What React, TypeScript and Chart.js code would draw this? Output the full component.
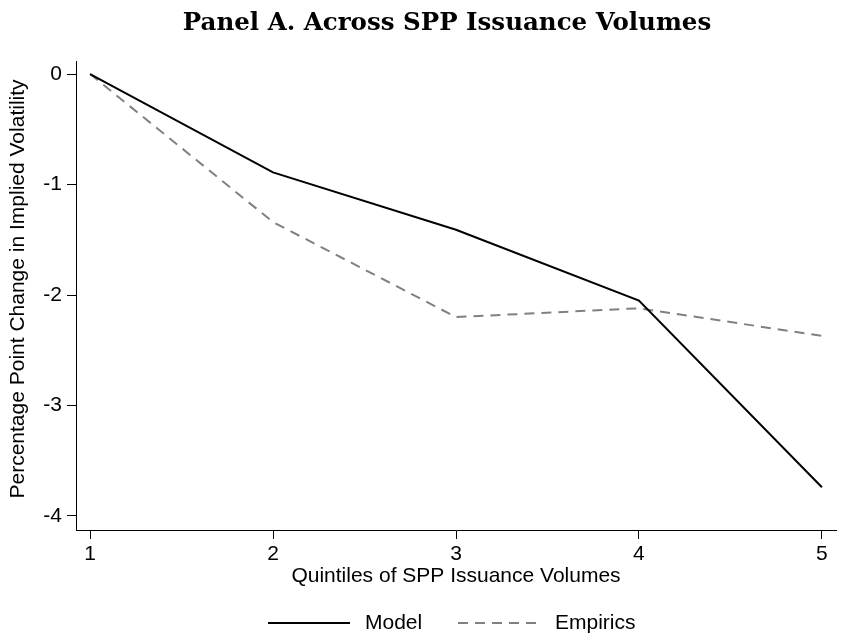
import React, { useEffect, useRef } from "react";
import { Chart, registerables } from "chart.js";

Chart.register(...registerables);

// Quintile buckets and the two response series (percentage points)
const quintiles = [1, 2, 3, 4, 5];
const modelValues = [0, -0.89, -1.41, -2.05, -3.74];
const empiricsValues = [0, -1.34, -2.2, -2.12, -2.37];

const xTickValues = [1, 2, 3, 4, 5];
const yTickValues = [0, -1, -2, -3, -4];

const titleText = "Panel A. Across SPP Issuance Volumes";
const xAxisLabel = "Quintiles of SPP Issuance Volumes";
const yAxisLabel = "Percentage Point Change in Implied Volatility";

const SANS = "'Liberation Sans', Arial, Helvetica, sans-serif";
const SERIF = "'DejaVu Serif', 'Liberation Serif', serif";
const TEXT_SIZE = 21;

// Draws the panel heading, the vertical axis caption and the legend strip
const decorPlugin = {
  id: "panelDecor",
  afterDraw(chart: any) {
    const ctx = chart.ctx as CanvasRenderingContext2D;
    ctx.save();
    ctx.fillStyle = "#000";
    ctx.font = `bold 24.5px ${SERIF}`;
    ctx.textAlign = "center";
    ctx.textBaseline = "alphabetic";
    ctx.fillText(titleText, 447, 30);

    // rotated caption for the value axis
    ctx.save();
    ctx.translate(18, 289);
    ctx.rotate(-Math.PI / 2);
    ctx.font = `${TEXT_SIZE}px ${SANS}`;
    ctx.textAlign = "center";
    ctx.textBaseline = "middle";
    ctx.fillText(yAxisLabel, 0, 0);
    ctx.restore();

    const legendY = 623;
    const entries = [
      { x0: 268, x1: 350, tx: 365 },
      { x0: 458, x1: 540, tx: 555 },
    ];
    chart.data.datasets.forEach((ds: any, i: number) => {
      const e = entries[i];
      ctx.beginPath();
      ctx.strokeStyle = ds.borderColor;
      ctx.lineWidth = ds.borderWidth;
      ctx.setLineDash(ds.borderDash || []);
      ctx.moveTo(e.x0, legendY);
      ctx.lineTo(e.x1, legendY);
      ctx.stroke();
      ctx.setLineDash([]);
      ctx.fillStyle = "#000";
      ctx.font = `${TEXT_SIZE}px ${SANS}`;
      ctx.textAlign = "left";
      ctx.textBaseline = "middle";
      ctx.fillText(ds.label, e.tx, legendY);
    });
    ctx.restore();
  },
};

export default function App() {
  const canvasRef = useRef<HTMLCanvasElement | null>(null);

  useEffect(() => {
    const canvas = canvasRef.current;
    if (!canvas) return;
    const chart = new Chart(canvas, {
      type: "line",
      data: {
        datasets: [
          {
            label: "Model",
            data: quintiles.map((q, i) => ({ x: q, y: modelValues[i] })),
            borderColor: "#000000",
            borderWidth: 2,
            pointRadius: 0,
            fill: false,
            tension: 0,
          },
          {
            label: "Empirics",
            data: quintiles.map((q, i) => ({ x: q, y: empiricsValues[i] })),
            borderColor: "#808080",
            borderWidth: 2,
            borderDash: [10, 7],
            pointRadius: 0,
            fill: false,
            tension: 0,
          },
        ],
      },
      options: {
        responsive: false,
        animation: false,
        layout: { padding: { left: 0, right: 6, top: 61, bottom: 40 } },
        plugins: {
          legend: { display: false },
          tooltip: { enabled: false },
        },
        scales: {
          x: {
            type: "linear",
            min: 0.923,
            max: 5.077,
            afterBuildTicks: (scale: any) => {
              scale.ticks = xTickValues.map((v) => ({ value: v }));
            },
            afterFit: (scale: any) => {
              scale.height = 70;
            },
            grid: {
              drawOnChartArea: false,
              drawTicks: true,
              tickLength: 9,
              color: "#000",
              lineWidth: 1,
            },
            border: { display: true, color: "#000", width: 1 },
            ticks: {
              color: "#000",
              font: { family: SANS, size: TEXT_SIZE },
              padding: 3,
              maxRotation: 0,
              callback: (v: any) => String(v),
            },
            title: {
              display: true,
              text: xAxisLabel,
              color: "#000",
              font: { family: SANS, size: TEXT_SIZE },
              padding: { top: 0, bottom: 11 },
            },
          },
          y: {
            type: "linear",
            min: -4.127,
            max: 0.118,
            afterBuildTicks: (scale: any) => {
              scale.ticks = yTickValues.map((v) => ({ value: v }));
            },
            afterFit: (scale: any) => {
              scale.width = 76;
            },
            grid: {
              drawOnChartArea: false,
              drawTicks: true,
              tickLength: 9,
              color: "#000",
              lineWidth: 1,
            },
            border: { display: true, color: "#000", width: 1 },
            ticks: {
              color: "#000",
              font: { family: SANS, size: TEXT_SIZE },
              padding: 5,
              callback: (v: any) => String(v),
            },
          },
        },
      },
      plugins: [decorPlugin],
    });
    return () => chart.destroy();
  }, []);

  return (
    <div style={{ position: "absolute", left: 0, top: 0, width: 842, height: 640, background: "#fff" }}>
      <canvas ref={canvasRef} width={842} height={640} />
    </div>
  );
}
